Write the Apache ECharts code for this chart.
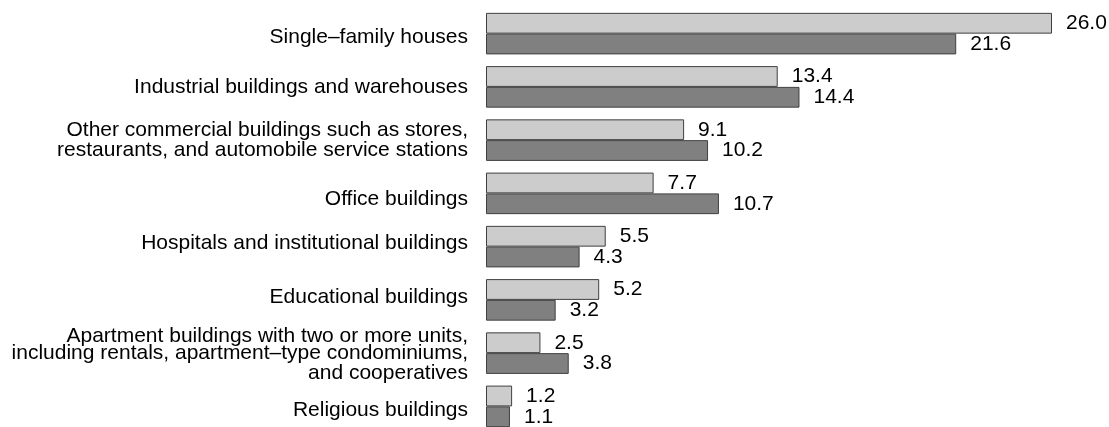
<!DOCTYPE html>
<html>
<head>
<meta charset="utf-8">
<script src="https://cdn.jsdelivr.net/npm/echarts@6/dist/echarts.min.js"></script>
<style>
  html, body { margin: 0; padding: 0; background: #fff; overflow: hidden; }
  /* a little taller than the window: the last bar is cut off in the original */
  #chart { width: 1109px; height: 433px; }
</style>
</head>
<body>
<div id="chart"></div>
<script>
// building types, top to bottom
const categories = [
  'Single–family houses',
  'Industrial buildings and warehouses',
  'Other commercial buildings such as stores,\nrestaurants, and automobile service stations',
  'Office buildings',
  'Hospitals and institutional buildings',
  'Educational buildings',
  'Apartment buildings with two or more units,\nincluding rentals, apartment–type condominiums,\nand cooperatives',
  'Religious buildings'
]
const lightValues = [26.0, 13.4, 9.1, 7.7, 5.5, 5.2, 2.5, 1.2]
const darkValues = [21.6, 14.4, 10.2, 10.7, 4.3, 3.2, 3.8, 1.1]

const chart = echarts.init(document.getElementById('chart'))

const font = { color: '#000', fontSize: 21, fontFamily: 'Liberation Sans', lineHeight: 20 }

// the category labels in the original sit a few px off the band centre
const labelShift = [4, 0, 0, 6, -3, -3, 3, 4]
const rich = { n: { ...font } }
labelShift.forEach((s, i) => {
  rich['p' + i] = { ...font, padding: s >= 0 ? [2 * s, 0, 0, 0] : [0, 0, -2 * s, 0] }
})

function catLabel(value, index) {
  const s = labelShift[index] || 0
  const lines = value.split('\n')
  const pick = s >= 0 ? 0 : lines.length - 1
  return lines.map((l, k) => (k === pick ? '{p' + index + '|' + l + '}' : '{n|' + l + '}')).join('\n')
}

const labelStyle = {
  show: true,
  position: 'right',
  distance: 14,
  color: '#000',
  fontSize: 21,
  fontFamily: 'Liberation Sans',
  formatter: p => p.value.toFixed(1)
}

const option = {
  animation: false,
  grid: { left: 486, right: 57, top: 7, bottom: 0, containLabel: false },
  xAxis: {
    type: 'value',
    min: 0,
    max: 26,
    show: false
  },
  yAxis: {
    type: 'category',
    data: categories,
    inverse: true,
    axisLine: { show: false },
    axisTick: { show: false },
    axisLabel: {
      margin: 18,
      ...font,
      align: 'right',
      formatter: catLabel,
      rich: rich
    }
  },
  series: [
    {
      type: 'bar',
      data: lightValues,
      barGap: '0%',
      barCategoryGap: '22%',
      itemStyle: { color: '#cccccc', borderColor: '#404040', borderWidth: 1 },
      label: labelStyle
    },
    {
      type: 'bar',
      data: darkValues,
      itemStyle: { color: '#808080', borderColor: '#404040', borderWidth: 1 },
      label: labelStyle
    }
  ]
}
chart.setOption(option)
</script>
</body>
</html>
